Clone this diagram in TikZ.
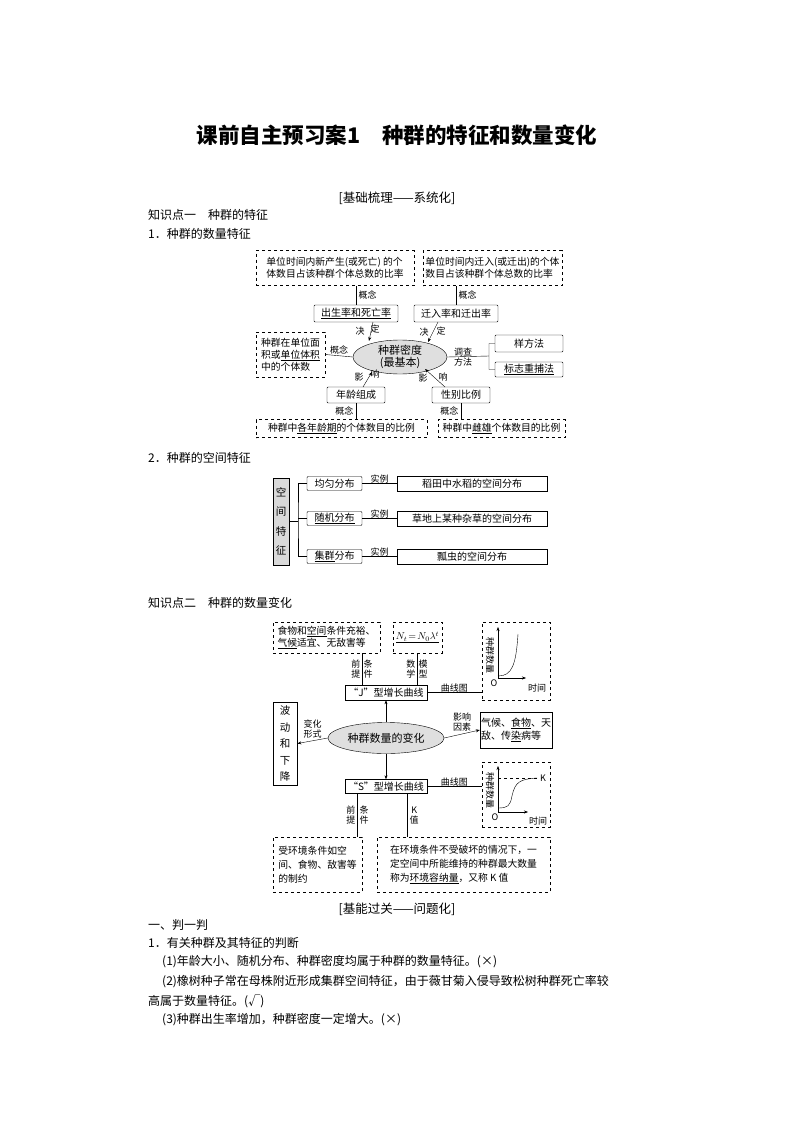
\documentclass[tikz,border=0pt]{standalone}
\usepackage{fontspec}
\setmainfont{Noto Sans CJK SC}
\usetikzlibrary{arrows.meta,shapes.geometric}
\begin{document}
\begin{tikzpicture}[x=1pt,y=-1pt,
  dbox/.style={draw,dashed,thick,inner sep=1pt,align=left,font=\fontsize{9.8}{12}\selectfont},
  sbox/.style={draw,rounded corners=1pt,inner sep=1pt,font=\fontsize{10}{11}\selectfont},
  lab/.style={font=\fontsize{9}{10}\selectfont,inner sep=0.5pt},
  txt/.style={anchor=west,font=\fontsize{12}{14}\selectfont,inner sep=0},
  arr/.style={-{Stealth[length=4pt,width=3pt]}},
  ell/.style={draw,ellipse,fill=gray!25,inner sep=0pt,font=\fontsize{11}{12}\selectfont,align=center}]
\useasboundingbox[fill=white] (0,0) rectangle (794,1123);
\node[font=\bfseries\fontsize{21.5}{24}\selectfont] (title) at (397,135) {课前自主预习案1\quad 种群的特征和数量变化};
\node[font=\fontsize{12.5}{14}\selectfont] (h1) at (397,198) {[基础梳理——系统化]};
\node[txt] (k1) at (148,215) {知识点一\quad 种群的特征};
\node[txt] (s1) at (148,234) {1．种群的数量特征};
% diagram 1
\node[dbox,minimum width=158,minimum height=35] (A) at (335,268) {单位时间内新产生(或死亡) 的个\\体数目占该种群个体总数的比率};
\node[dbox,minimum width=139,minimum height=35] (B) at (492.5,268) {单位时间内迁入(或迁出)的个体\\数目占该种群个体总数的比率};
\node[sbox,minimum width=84,minimum height=17] (BR) at (356,313.5) {\underline{出生率和死亡率}};
\node[sbox,minimum width=84,minimum height=17] (MR) at (456,313.5) {迁入率和迁出率};
\draw (BR.north) -- (BR.north|-A.south) node[lab,midway,right=2pt] {概念};
\draw (MR.north) -- (MR.north|-B.south) node[lab,midway,right=2pt] {概念};
\node[ell,minimum width=94,minimum height=34] (E1) at (400,357) {种群密度\\(最基本)};
\node[dbox,minimum width=69,minimum height=45] (L) at (290.5,354.5) {种群在单位面\\积或\underline{单位体积}\\中的个体数};
\draw (E1.west) -- (L.east) node[lab,midway,above=1pt] {概念};
\node[sbox,minimum width=68,minimum height=17] (Y) at (529,343.5) {样方法};
\node[sbox,minimum width=68,minimum height=15] (Z) at (529,369.5) {\underline{标志重捕法}};
\coordinate (J1) at (489,356);
\draw (E1.east) -- (J1) (Y.west) -| (J1) |- (Z.west);
\node[lab,align=center] at (463,357) {调查\\方法};
\node[sbox,minimum width=58,minimum height=16] (AG) at (356,395) {年龄组成};
\node[sbox,minimum width=58,minimum height=16] (SX) at (461,395) {性别比例};
\draw[arr] (373,322) -- (369,341);
\node[lab] at (360,331) {决}; \node[lab] at (375,329) {定};
\draw[arr] (438,322) -- (428,342);
\node[lab] at (424,332) {决}; \node[lab] at (441,331) {定};
\draw[arr] (363,387) -- (372,372);
\node[lab] at (359,377) {影}; \node[lab] at (375,374) {响};
\draw[arr] (445,387) -- (425,369);
\node[lab] at (423,378) {影}; \node[lab] at (443,377) {响};
\node[dbox,minimum width=171,minimum height=18] (C) at (341.5,428.5) {种群中\underline{各年龄期}的个体数目的比例};
\node[dbox,minimum width=127,minimum height=18] (D) at (501.5,428.5) {种群中\underline{雌雄}个体数目的比例};
\draw (AG.south) -- (AG.south|-C.north) node[lab,midway,left=2pt] {概念};
\draw (SX.south) -- (SX.south|-D.north) node[lab,midway,left=2pt] {概念};
% diagram 2
\node[txt] (s2) at (148,458) {2．种群的空间特征};
\node[draw,thick,fill=gray!30,minimum width=16,minimum height=87,inner sep=0,align=center,font=\fontsize{10.5}{19.5}\selectfont] (K) at (281,521.5) {空\\间\\特\\征};
\node[sbox,minimum width=55,minimum height=14] (U1) at (334.5,483.5) {均匀分布};
\node[sbox,minimum width=55,minimum height=14] (U2) at (334.5,518.5) {\underline{随机分布}};
\node[sbox,minimum width=55,minimum height=14] (U3) at (334.5,556.5) {\underline{集群}分布};
\node[sbox,rounded corners=0,minimum width=150,minimum height=15] (V1) at (472,483.5) {稻田中水稻的空间分布};
\node[sbox,rounded corners=0,minimum width=150,minimum height=15] (V2) at (472,518.5) {草地上某种杂草的空间分布};
\node[sbox,rounded corners=0,minimum width=150,minimum height=15] (V3) at (472,556.5) {瓢虫的空间分布};
\coordinate (J2) at (298,521);
\draw (K.east|-J2) -- (J2) (U1.west) -| (J2) |- (U3.west) (U2.west) -- (J2|-U2.west);
\foreach \i in {1,2,3} \draw (U\i.east) -- (V\i.west) node[lab,midway,above] {实例};
% diagram 3
\node[txt] (k2) at (148,603) {知识点二\quad 种群的数量变化};
\node[dbox,minimum width=107,minimum height=31] (F) at (326.5,637.5) {食物和\underline{空间}条件充裕、\\\underline{气候}适宜、无敌害等};
\node[dbox,minimum width=49,minimum height=31,align=center] (N) at (417.5,637.5) {\underline{$N_t\!=\!N_0\lambda^t$}};
\node[sbox,rounded corners=0,minimum width=82,minimum height=15] (JB) at (386,692.5) {“J”型增长曲线};
\draw (362,685) -- (362,653) node[lab,midway,left=1pt,align=center] {前\\提} node[lab,midway,right=1pt,align=center] {条\\件};
\draw (417,685) -- (417,653) node[lab,midway,left=1pt,align=center] {数\\学} node[lab,midway,right=1pt,align=center] {模\\型};
\node[dbox,minimum width=68,minimum height=78] (GJ) at (516,661) {};
\draw[arr,thin] (498,678) -- (498,627);
\draw[arr,thin] (498,678) -- (526,678);
\draw (498,676) .. controls (512,676) and (516,665) .. (518,634);
\node[lab] at (494,683) {\itshape O};
\node[lab] at (537,688) {时间};
\node[lab,rotate=-90] at (490,655) {种群数量};
\draw (JB.east) -- (GJ.west|-JB.east) node[lab,midway,above] {曲线图};
\node[draw,thick,minimum width=24,minimum height=83,inner sep=0,align=center,font=\fontsize{10.5}{16.5}\selectfont] (W) at (285,743.5) {波\\动\\和\\下\\降};
\node[ell,minimum width=116,minimum height=31] (E2) at (386,738) {种群数量的变化};
\draw[arr] (E2.north) -- (JB.south);
\draw[arr] (E2.west) -- (W.east) node[lab,midway,above=2pt,align=center] {变化\\形式};
\node[sbox,rounded corners=0,minimum width=68,minimum height=36,align=left,font=\fontsize{10}{13}\selectfont] (Q) at (516,730) {气候、\underline{食物}、天\\敌、传\underline{染}病等};
\draw[arr] (E2.east) -- (Q.west) node[lab,midway,above=2pt,align=center] {影响\\因素};
\node[sbox,rounded corners=0,minimum width=82,minimum height=14] (SB) at (386,786.5) {“S”型增长曲线};
\draw[arr] (E2.south) -- (SB.north);
\node[dbox,minimum width=68,minimum height=65] (GS) at (516,794.5) {};
\draw[arr,thin] (498,812) -- (498,766);
\draw[arr,thin] (498,812) -- (528,812);
\draw[dashed,thin] (498,778) -- (538,778);
\draw (498,808) .. controls (508,808) and (510,806) .. (512,796) .. controls (515,782) and (520,779) .. (537,778);
\node[lab] at (543,778) {\itshape K};
\node[lab] at (495,817) {\itshape O};
\node[lab] at (538,821) {时间};
\node[lab,rotate=-90] at (490,790) {种群数量};
\draw (SB.east) -- (GS.west|-SB.east) node[lab,midway,above] {曲线图};
\node[dbox,minimum width=89,minimum height=55,font=\fontsize{9.8}{14}\selectfont] (P1) at (317.5,864.5) {受环境条件如空\\间、食物、敌害等\\的制约};
\node[dbox,minimum width=173,minimum height=55,font=\fontsize{9.8}{14}\selectfont] (P2) at (463.5,864.5) {在环境条件不受破坏的情况下，一\\定空间中所能维持的种群最大数量\\称为\underline{环境容纳量}，又称 \textit{K} 值};
\draw (357,793.5) -- (357,837) node[lab,midway,left=1pt,align=center] {前\\提} node[lab,midway,right=2pt,align=center] {条\\件};
\draw (407,793.5) -- (407,837) node[lab,midway,right=2pt,align=center] {\textit{K}\\值};
\node[font=\fontsize{12.5}{14}\selectfont] (h2) at (397,909) {[基能过关——问题化]};
\node[txt] (t1) at (148,925) {一、判一判};
\node[txt] (t2) at (148,943) {1．有关种群及其特征的判断};
\node[txt] (t3) at (162,962) {(1)年龄大小、随机分布、种群密度均属于种群的数量特征。(×)};
\node[txt] (t4) at (162,982) {(2)橡树种子常在母株附近形成集群空间特征，由于薇甘菊入侵导致松树种群死亡率较};
\node[txt] (t5) at (148,1001) {高属于数量特征。(√)};
\node[txt] (t6) at (162,1020) {(3)种群出生率增加，种群密度一定增大。(×)};
\end{tikzpicture}
\end{document}
